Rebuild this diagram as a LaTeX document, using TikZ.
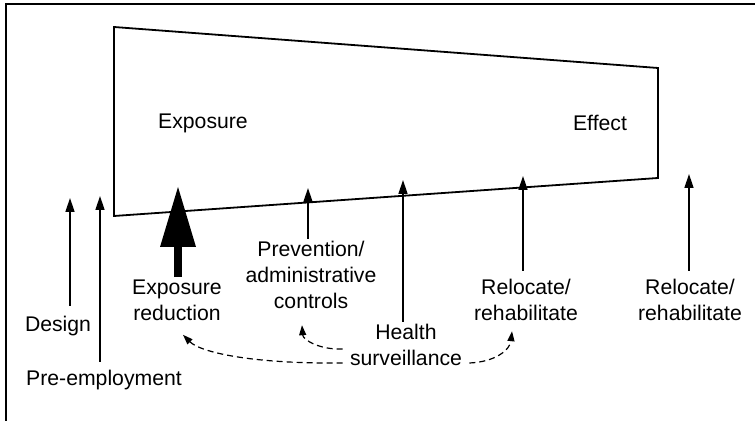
\documentclass[tikz,border=0pt]{standalone}
\usepackage{fontspec}
\setmainfont{Liberation Sans}
\usetikzlibrary{arrows.meta}

\begin{document}
\begin{tikzpicture}[x=0.5pt,y=-0.5pt,
    every node/.style={font=\fontsize{10.6pt}{13pt}\selectfont, inner sep=1pt, align=center},
    uparrow/.style={line width=0.75pt, -{Triangle[length=7pt,width=4.5pt]}},
    bigarrow/.style={line width=4pt, -{Triangle[length=30pt,width=18pt,line width=0pt]}},
    loopback/.style={line width=0.6pt, dash pattern=on 3pt off 2pt, -{Triangle[length=5pt,width=3.5pt]}}]
  \useasboundingbox (0,0) rectangle (755,421);
  % frame
  \draw[line width=1pt] (6,421) -- (6,4.5) -- (755,4.5);
  % band from exposure to effect
  \draw[line width=0.9pt] (114,27) -- (658,68) -- (658,178) -- (114,216) -- cycle;
  \node (exposure) at (203,123) {Exposure};
  \node (effect) at (600,123) {Effect};

  % arrow tips
  \coordinate (designtip) at (70,198);
  \coordinate (preemptip) at (100,196);
  \coordinate (reductip) at (178,187);
  \coordinate (preventip) at (308,188);
  \coordinate (healthtip) at (403,180);
  \coordinate (relocAtip) at (523,176);
  \coordinate (relocBtip) at (689,174);

  % labels
  \node (design) at (58,326) {Design};
  \node (preemp) at (104,380) {Pre-employment};
  \node (reduction) at (177,300) {Exposure\\reduction};
  \node (prevention) at (311,275) {Prevention/\\administrative\\controls};
  \node (surv) at (406,345) {Health\\surveillance};
  \node (relocA) at (526,300) {Relocate/\\rehabilitate};
  \node (relocB) at (690,300) {Relocate/\\rehabilitate};

  \draw[uparrow, shorten <=4pt] (design.north -| designtip) -- (designtip);
  \draw[uparrow, shorten <=3pt] (preemp.north -| preemptip) -- (preemptip);
  \draw[bigarrow] (reduction.north -| reductip) -- (reductip);
  \draw[uparrow] (prevention.north -| preventip) -- (preventip);
  \draw[uparrow] (surv.north -| healthtip) -- (healthtip);
  \draw[uparrow, shorten <=3pt] (relocA.north -| relocAtip) -- (relocAtip);
  \draw[uparrow, shorten <=3pt] (relocB.north -| relocBtip) -- (relocBtip);

  % feedback from surveillance
  \draw[loopback] ([xshift=-2.5pt,yshift=-9pt]surv.west) .. controls (250,364) and (200,352) .. ([xshift=3pt,yshift=-6pt]reduction.south);
  \draw[loopback] ([xshift=-2.5pt,yshift=-2pt]surv.west) .. controls (320,350) and (303,340) .. ([xshift=-4.5pt,yshift=-7pt]prevention.south);
  \draw[loopback] ([xshift=2.5pt,yshift=-9pt]surv.east) .. controls (495,362) and (510,350) .. ([xshift=-7pt,yshift=-4pt]relocA.south);
\end{tikzpicture}
\end{document}
